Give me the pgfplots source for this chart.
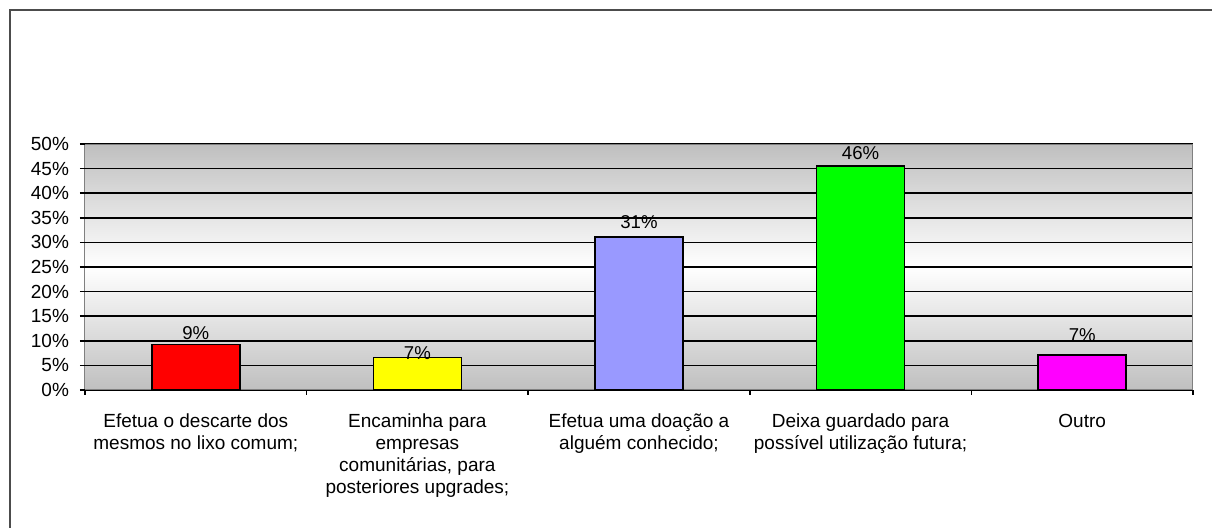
\documentclass[border=0pt]{standalone}
\usepackage{pgfplots}
\pgfplotsset{compat=1.18}
\usepackage{fontspec}
\setmainfont{Liberation Sans}
\begin{document}
\begin{tikzpicture}
\path[use as bounding box] (0,0) rectangle (606pt,-264pt);
\draw[black!70, line width=1pt] (4.75pt,-264pt) -- (4.75pt,-5pt) -- (606pt,-5pt);
\begin{axis}[
  at={(42.5pt,-195pt)}, anchor=south west,
  width=554pt, height=123pt, scale only axis,
  xmin=-0.5, xmax=4.5, ymin=0, ymax=50,
  ytick={0,5,...,50},
  yticklabel={\pgfmathprintnumber{\tick}\%},
  xtick={0,1,2,3,4},
  xticklabels={{Efetua o descarte dos\\mesmos no lixo comum;},
               {Encaminha para\\empresas\\comunitárias, para\\posteriores upgrades;},
               {Efetua uma doação a\\alguém conhecido;},
               {Deixa guardado para\\possível utilização futura;},
               {Outro}},
  minor xtick={-0.5,0.5,1.5,2.5,3.5,4.5},
  major tick length=0pt,
  minor tick length=2.5pt,
  extra y ticks={0,5,...,50},
  extra y tick labels={},
  extra y tick style={major tick length=2.5pt, grid=none},
  xtick pos=left, ytick pos=left, tick align=outside,
  tick style={black, line width=0.75pt},
  ymajorgrids, major grid style={black, line width=0.75pt},
  axis line style={black!50, line width=0.5pt},
  axis background/.style={shade, top color=black!25, bottom color=black!25, middle color=white},
  /pgf/number format/assume math mode=true,
  tick label style={font=\fontsize{9.5}{11}\selectfont, text=black},
  xticklabel style={align=center, anchor=north, yshift=-8.5pt},
  yticklabel style={xshift=-4.5pt},
  clip=false,
]
\addplot[ybar, bar width=44pt, bar shift=0pt, fill={rgb,255:red,255;green,0;blue,0}, draw=black, line width=0.75pt] coordinates {(0,9.2)};
\addplot[ybar, bar width=44pt, bar shift=0pt, fill={rgb,255:red,255;green,255;blue,0}, draw=black, line width=0.75pt] coordinates {(1,6.6)};
\addplot[ybar, bar width=44pt, bar shift=0pt, fill={rgb,255:red,153;green,153;blue,255}, draw=black, line width=0.75pt] coordinates {(2,31.1)};
\addplot[ybar, bar width=44pt, bar shift=0pt, fill={rgb,255:red,0;green,255;blue,0}, draw=black, line width=0.75pt] coordinates {(3,45.5)};
\addplot[ybar, bar width=44pt, bar shift=0pt, fill={rgb,255:red,255;green,0;blue,255}, draw=black, line width=0.75pt] coordinates {(4,7.1)};
\addplot[draw=none, nodes near coords, point meta=explicit symbolic,
  every node near coord/.append style={anchor=center, font=\fontsize{9.3}{11}\selectfont, text=black}]
  coordinates {(0,11.65)[9\%] (1,7.5)[7\%] (2,34.2)[31\%] (3,48.2)[46\%] (4,11.2)[7\%]};
\end{axis}
\end{tikzpicture}
\end{document}
